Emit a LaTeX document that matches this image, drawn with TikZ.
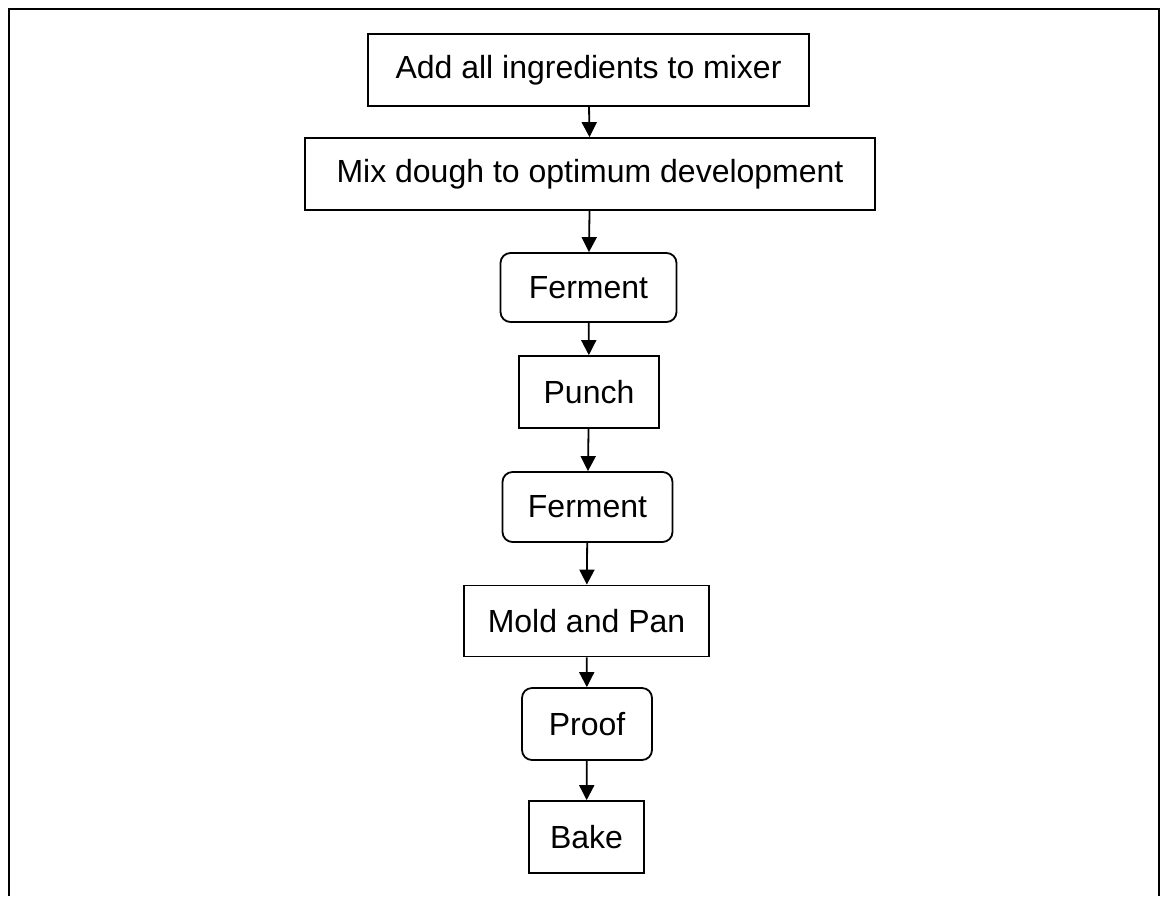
\documentclass[tikz,border=0pt]{standalone}
\usepackage{fontspec}
\setmainfont{Liberation Sans}
\usepackage{tikz}
\usetikzlibrary{arrows.meta,positioning}

\begin{document}
\begin{tikzpicture}[
    x=0.5pt, y=-0.5pt,
    stepbox/.style={draw, line width=0.9pt, inner sep=0pt, align=center, font=\fontsize{16}{19}\selectfont},
    roundbox/.style={stepbox, rounded corners=5pt},
    arr/.style={-{Triangle[length=7.5pt, width=7.5pt]}, line width=0.9pt}
]
\useasboundingbox (0,0) rectangle (1161,896);
\draw[line width=1.2pt] (9,896) -- (9,9) -- (1159,9) -- (1159,896);

\node[stepbox, minimum width=220.5pt, minimum height=36pt] (add) at (588.5,70) {Add all ingredients to mixer};
\node[stepbox, minimum width=285pt, minimum height=36pt] (mix) at (590,174) {Mix dough to optimum development};
\node[roundbox, minimum width=88pt, minimum height=34.5pt] (ferm1) at (588.5,287.5) {Ferment};
\node[stepbox, minimum width=70pt, minimum height=36pt] (punch) at (589,392) {Punch};
\node[roundbox, minimum width=85pt, minimum height=35pt] (ferm2) at (587.5,507) {Ferment};
\node[stepbox, minimum width=122.5pt, minimum height=35.5pt] (mold) at (586.5,621) {Mold and Pan};
\node[roundbox, minimum width=65pt, minimum height=36pt] (proof) at (587,724) {Proof};
\node[stepbox, minimum width=57.5pt, minimum height=36pt] (bake) at (586.5,837) {Bake};

\draw[arr] (add) -- (mix);
\draw[arr] (mix) -- (ferm1);
\draw[arr] (ferm1) -- (punch);
\draw[arr] (punch) -- (ferm2);
\draw[arr] (ferm2) -- (mold);
\draw[arr] (mold) -- (proof);
\draw[arr] (proof) -- (bake);
\end{tikzpicture}
\end{document}
